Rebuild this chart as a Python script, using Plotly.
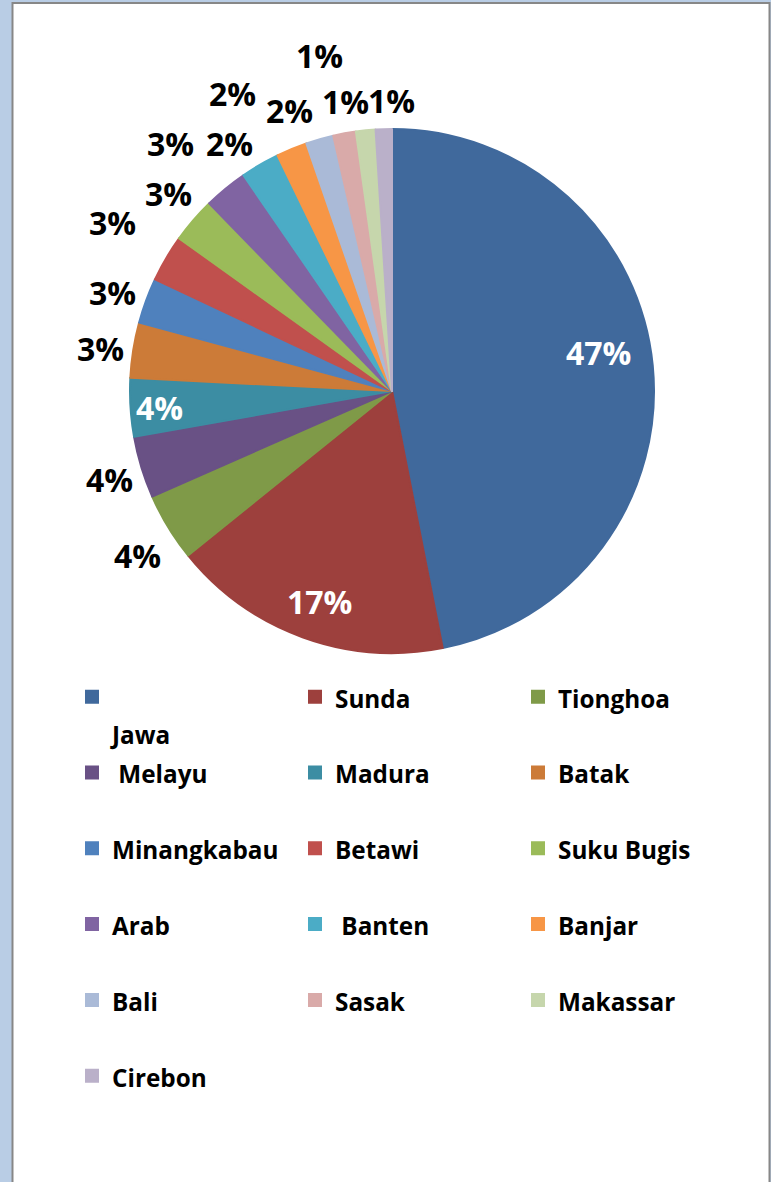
import math
import plotly.graph_objects as go

# Suku bangsa (ethnic groups) and their share of the population, in percent
categories = ["Jawa", "Sunda", "Tionghoa", "Melayu", "Madura", "Batak",
              "Minangkabau", "Betawi", "Suku Bugis", "Arab", "Banten",
              "Banjar", "Bali", "Sasak", "Makassar", "Cirebon"]
shares = [46.9, 17.3, 4.2, 3.8, 3.6, 3.4,
          2.8, 2.9, 2.8, 2.7, 2.4,
          1.9, 1.7, 1.4, 1.2, 1.0]

slice_colors = ["#40699C", "#9D403D", "#7F9A48", "#695185", "#3C8DA3", "#CC7B38",
                "#4F81BD", "#C0504D", "#9BBB59", "#8064A2", "#4BACC6",
                "#F79646", "#AABAD7", "#D9AAA9", "#C6D6AC", "#BAB0C9"]

# percentage labels: distance from the centre (in radii) and a small turn (degrees)
# away from each slice's middle angle, so crowded small slices do not collide
label_radius = [0.80, 0.85, 1.156, 1.13, 0.89, 1.126,
                1.13, 1.245, 1.14, 1.27, 1.13,
                1.29, 1.14, 1.31, 1.12, 1.107]
label_turn = [-4.9, -1.0, -1.5, -0.5, -0.4, -0.7,
              -0.7, 0.7, 0.8, -2.4, -3.0,
              -5.7, -4.1, -1.7, -3.4, 1.8]

# legend entries: a leading space on some names, and "Jawa" wrapped to a second line
legend_text = {"Melayu": " Melayu", "Banten": " Banten"}
NBSP = "\u00a0"


def legend_label(name):
    span = '<span style="font-size:24.3px">{}</span>'
    if name == "Jawa":
        return span.format(NBSP) + "<br>" + span.format(name)
    return span.format(legend_text.get(name, name)) + "<br>" + NBSP


W, H = 771, 1182
MR = 71                      # right margin keeps the legend at three columns
PW = W - MR

cx, cy, r = 392, 391, 262    # pie centre and radius in pixels

fig = go.Figure(go.Pie(
    labels=[legend_label(c) for c in categories],
    values=shares,
    sort=False,
    direction="clockwise",
    rotation=0,
    # outline in the slice's own colour: invisible on the pie, enlarges legend swatches
    marker=dict(colors=slice_colors, line=dict(color=slice_colors, width=2)),
    textinfo="none",
    hoverinfo="skip",
    domain=dict(x=[(cx - r) / PW, (cx + r) / PW],
                y=[1 - (cy + r) / H, 1 - (cy - r) / H]),
))

# percentage labels placed along each slice's middle angle (clockwise from 12 o'clock)
total = sum(shares)
start = 0.0
for name, val, rad, turn in zip(categories, shares, label_radius, label_turn):
    sweep = 360.0 * val / total
    ang = math.radians(start + sweep / 2 + turn)
    start += sweep
    px = cx + rad * r * math.sin(ang)
    py = cy - rad * r * math.cos(ang)
    fig.add_annotation(
        x=px / PW, y=1 - py / H, xref="paper", yref="paper",
        xanchor="center", yanchor="middle", showarrow=False,
        text=f"{round(100 * val / total)}%",
        font=dict(family="Open Sans", size=32, weight="bold",
                  color="white" if rad < 1 else "black"),
    )

# white chart area with a grey frame on the light-blue page
fig.add_shape(type="rect", xref="paper", yref="paper", layer="below",
              x0=12.5 / PW, x1=769.5 / PW, y0=-0.05, y1=1 - 3 / H,
              fillcolor="white", line=dict(color="#878787", width=2))

fig.update_layout(
    width=W, height=H,
    margin=dict(l=0, r=MR, t=0, b=0),
    paper_bgcolor="#B9CDE5",
    showlegend=True,
    legend=dict(
        orientation="h",
        x=72 / PW, xanchor="left",
        y=1 - 672 / H, yanchor="top",
        entrywidth=178, entrywidthmode="pixels",
        valign="top",
        font=dict(family="Open Sans", size=28, color="black", weight="bold"),
        bgcolor="rgba(0,0,0,0)",
    ),
)

fig.write_html("out.html")
